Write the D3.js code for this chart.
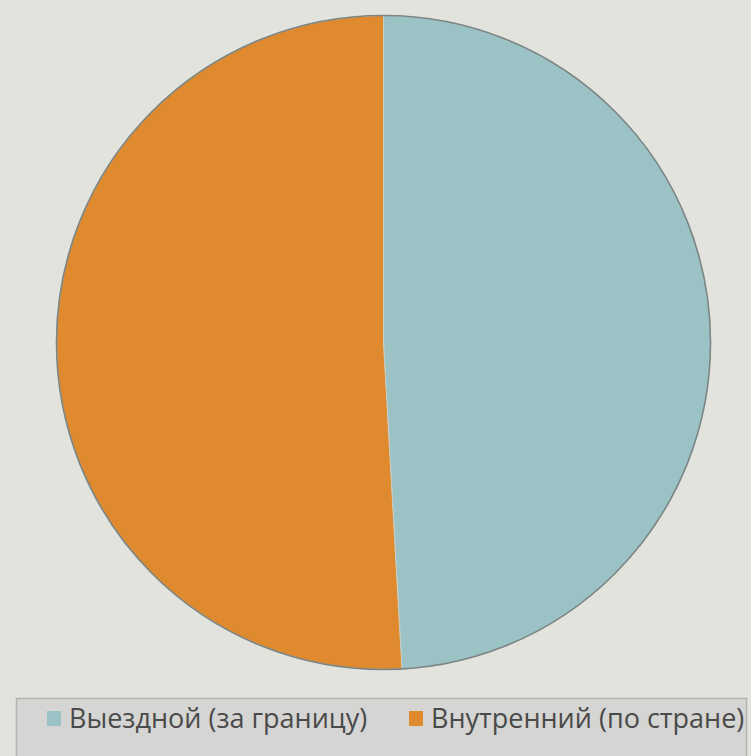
<!DOCTYPE html>
<html>
<head>
<meta charset="utf-8">
<script src="https://cdn.jsdelivr.net/npm/d3@7"></script>
<style>
  html, body { margin: 0; padding: 0; background: #e3e3dd; }
  svg { display: block; }
</style>
</head>
<body>
<div id="chart"></div>
<script>
// data
const categories = ["Выездной (за границу)", "Внутренний (по стране)"];
const shares = [49.1, 50.9];
const colors = ["#9bc3c5", "#e08a2f"];

const width = 751;
const height = 756;
const cx = 383.5, cy = 342.5, radius = 327;

const svg = d3.select("#chart")
  .append("svg")
  .attr("width", width)
  .attr("height", height);

const data = categories.map((c, i) => ({ name: c, value: shares[i], color: colors[i] }));

const pie = d3.pie()
  .sort(null)
  .value(d => d.value);

const arc = d3.arc()
  .innerRadius(0)
  .outerRadius(radius);

const g = svg.append("g")
  .attr("transform", `translate(${cx},${cy})`);

g.selectAll("path.slice")
  .data(pie(data))
  .enter()
  .append("path")
  .attr("class", "slice")
  .attr("d", arc)
  .attr("fill", d => d.data.color)
  .attr("stroke", "#c9cfc8")
  .attr("stroke-width", 1);

// outline of the pie
g.append("circle")
  .attr("r", radius)
  .attr("fill", "none")
  .attr("stroke", "#7b8585")
  .attr("stroke-width", 1.6);

// legend
const legend = svg.append("g");

legend.append("defs")
  .append("clipPath")
  .attr("id", "legclip")
  .append("rect")
  .attr("x", 16).attr("y", 698)
  .attr("width", 730).attr("height", 70);

legend.append("rect")
  .attr("x", 16.5).attr("y", 698.5)
  .attr("width", 730).attr("height", 70)
  .attr("fill", "#d5d5d3")
  .attr("stroke", "#b3b3b1")
  .attr("stroke-width", 1.5);

const items = legend.append("g").attr("clip-path", "url(#legclip)");
const itemX = [47, 409];

categories.forEach((c, i) => {
  items.append("rect")
    .attr("x", itemX[i]).attr("y", 711)
    .attr("width", 14).attr("height", 15)
    .attr("fill", colors[i]);
  items.append("text")
    .attr("x", itemX[i] + 22)
    .attr("y", 728)
    .attr("font-family", "'Open Sans', sans-serif")
    .attr("font-size", 27)
    .attr("fill", "#4a4a4a")
    .text(c);
});
</script>
</body>
</html>
